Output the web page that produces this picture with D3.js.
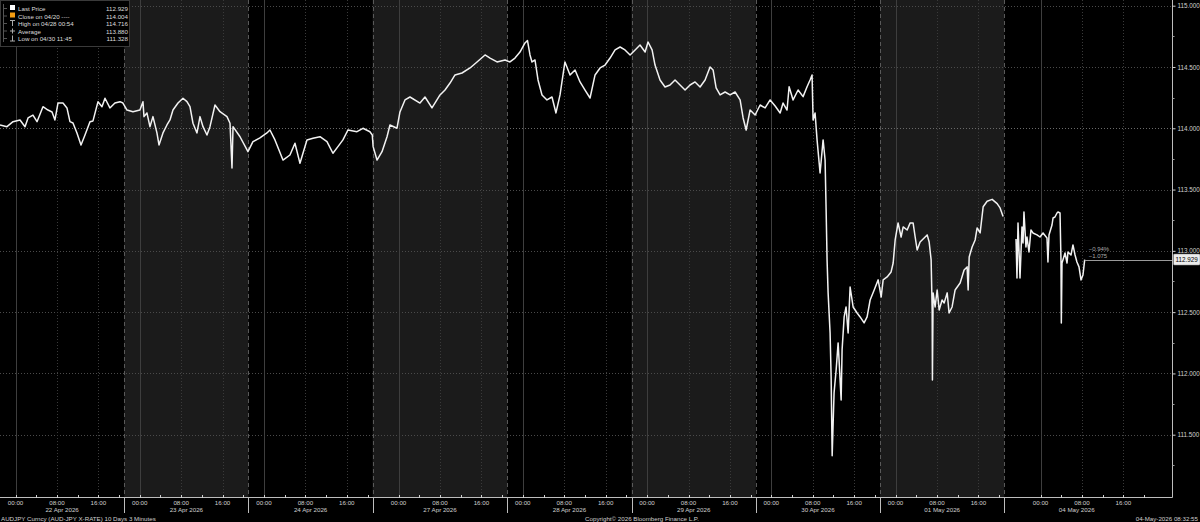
<!DOCTYPE html>
<html><head><meta charset="utf-8">
<script src="https://cdn.jsdelivr.net/npm/d3@7"></script>
<style>
html,body{margin:0;padding:0;background:#000;}
svg{display:block;}
text{font-family:"Liberation Sans",Arial,sans-serif;}
</style></head>
<body>
<svg id="c" width="1200" height="522"></svg>
<script>
// ---------- DATA ----------
const ticker = "AUDJPY Curncy (AUD-JPY X-RATE) 10 Days 3 Minutes";
const copyright = "Copyright\u00A9 2026 Bloomberg Finance L.P.";
const stamp = "04-May-2026 08:32:55";
const legendLabels = ["Last Price", "Close on 04/20 ----", "High on 04/28 00:54", "Average", "Low on 04/30 11:45"];
const legendValues = ["112.929", "114.004", "114.716", "113.880", "111.328"];
const lastPrice = 112.929;
const prevClose = 114.004;
const yTicks = [111.5, 112.0, 112.5, 113.0, 113.5, 114.0, 114.5, 115.0];
const dayLabels = ["22 Apr 2026","23 Apr 2026","24 Apr 2026","27 Apr 2026","28 Apr 2026","29 Apr 2026","30 Apr 2026","01 May 2026","04 May 2026"];
const dayStarts = ["04-21 21:00","04-22 21:00","04-23 21:00","04-26 19:00","04-27 21:00","04-28 21:00","04-29 21:00","04-30 21:00","05-03 17:00"];
const dayEnds   = ["04-22 21:00","04-23 21:00","04-24 21:00","04-27 21:00","04-28 21:00","04-29 21:00","04-30 21:00","05-01 21:00","05-04 21:00"];
const dayDates  = ["04-22","04-23","04-24","04-27","04-28","04-29","04-30","05-01","05-04"];
const timeTickLabels = ["00:00","08:00","16:00"];
// trading-time breakpoints (weekends collapsed)
const timeBreaks = ["04-21 21:00","04-24 21:00","04-26 19:00","05-01 21:00","05-03 17:00","05-05 01:24"];

const times = ["04-21 21:00","04-21 22:21","04-21 23:31","04-22 00:52","04-22 01:50","04-22 02:25","04-22 03:22","04-22 04:09","04-22 05:18","04-22 06:16","04-22 07:03","04-22 07:37","04-22 08:12","04-22 09:10","04-22 09:56","04-22 10:31","04-22 11:06","04-22 11:52","04-22 12:39","04-22 13:25","04-22 14:23","04-22 14:58","04-22 15:56","04-22 16:42","04-22 17:17","04-22 18:14","04-22 19:12","04-22 20:11","04-22 20:45","04-22 21:32","04-22 22:41","04-23 00:02","04-23 00:37","04-23 00:49","04-23 01:23","04-23 01:58","04-23 02:33","04-23 03:19","04-23 03:43","04-23 04:29","04-23 05:15","04-23 05:50","04-23 06:25","04-23 07:23","04-23 08:21","04-23 09:07","04-23 09:42","04-23 10:17","04-23 11:03","04-23 11:38","04-23 12:13","04-23 12:59","04-23 13:34","04-23 14:32","04-23 15:30","04-23 16:51","04-23 17:26","04-23 17:49","04-23 18:01","04-23 19:22","04-23 20:54","04-23 21:52","04-23 23:13","04-24 00:34","04-24 01:09","04-24 02:07","04-24 03:40","04-24 05:01","04-24 05:59","04-24 06:57","04-24 08:18","04-24 09:28","04-24 10:49","04-24 12:10","04-24 13:19","04-24 14:17","04-24 15:15","04-24 16:13","04-24 17:58","04-24 19:07","04-24 20:28","04-24 20:55",
"04-26 19:05","04-26 19:50","04-26 20:48","04-26 21:46","04-26 22:20","04-26 23:41","04-27 00:16","04-27 01:14","04-27 02:12","04-27 04:08","04-27 05:06","04-27 06:27","04-27 08:00","04-27 08:58","04-27 09:56","04-27 10:54","04-27 12:15","04-27 13:48","04-27 15:09","04-27 16:42","04-27 17:40","04-27 19:01","04-27 20:34","04-27 21:31","04-27 22:29","04-27 23:27","04-28 00:25","04-28 00:54","04-28 01:23","04-28 01:46","04-28 02:21","04-28 02:56","04-28 03:42","04-28 04:40","04-28 05:38","04-28 06:24","04-28 07:11","04-28 08:08","04-28 09:07","04-28 10:05","04-28 11:03","04-28 12:01","04-28 12:59","04-28 13:57","04-28 14:55","04-28 15:53","04-28 16:51","04-28 17:49","04-28 18:47","04-28 19:44","04-28 20:43","04-28 21:41","04-28 22:38","04-28 23:37","04-29 00:11","04-29 00:58","04-29 01:32","04-29 02:30","04-29 03:28","04-29 04:26","04-29 05:24","04-29 06:22","04-29 07:20","04-29 08:18","04-29 09:16","04-29 10:14","04-29 11:12","04-29 12:10","04-29 12:45","04-29 13:20","04-29 14:06","04-29 15:04","04-29 16:02","04-29 17:00","04-29 17:58","04-29 18:33","04-29 19:08","04-29 19:54","04-29 20:52","04-29 21:50","04-29 22:48","04-29 23:46","04-30 00:44","04-30 01:42","04-30 02:16","04-30 03:02","04-30 03:26","04-30 04:12","04-30 05:10","04-30 06:08","04-30 06:54","04-30 07:29","04-30 07:52","04-30 08:04","04-30 08:27","04-30 08:50","04-30 09:25","04-30 10:00","04-30 10:23","04-30 10:35","04-30 10:46","04-30 10:58","04-30 11:21","04-30 11:33","04-30 11:45","04-30 12:07","04-30 12:31","04-30 12:54","04-30 13:05","04-30 13:29","04-30 13:40","04-30 14:04","04-30 14:26","04-30 14:50","04-30 15:13","04-30 15:48","04-30 16:34","04-30 17:09","04-30 17:55","04-30 18:30","04-30 19:05","04-30 19:52","04-30 20:38","04-30 21:13","04-30 21:36","04-30 22:22","04-30 23:08","04-30 23:32","04-30 23:55","05-01 00:29","05-01 01:04","05-01 01:28","05-01 02:14","05-01 02:49","05-01 03:23","05-01 03:47","05-01 04:10","05-01 04:44","05-01 05:31","05-01 06:06","05-01 06:29","05-01 06:52","05-01 07:04","05-01 07:07","05-01 07:15","05-01 07:38","05-01 08:02","05-01 08:25","05-01 08:59","05-01 09:23","05-01 09:58","05-01 10:20","05-01 10:55","05-01 11:30","05-01 12:28","05-01 13:14","05-01 13:49","05-01 14:01","05-01 14:13","05-01 14:47","05-01 15:22","05-01 15:45","05-01 16:20","05-01 16:55","05-01 17:41","05-01 18:39","05-01 19:37","05-01 20:11","05-01 20:46",
"05-03 19:16","05-03 19:27","05-03 19:39","05-03 20:02","05-03 20:25","05-03 20:37","05-03 20:48","05-03 21:11","05-03 21:23","05-03 21:46","05-03 22:09","05-03 22:32","05-03 23:19","05-03 23:54","05-04 00:29","05-04 01:15","05-04 01:26","05-04 01:38","05-04 02:13","05-04 02:25","05-04 02:47","05-04 03:11","05-04 03:22","05-04 03:46","05-04 03:57","05-04 04:01","05-04 04:09","05-04 04:44","05-04 05:07","05-04 05:18","05-04 05:53","05-04 06:16","05-04 06:40","05-04 07:02","05-04 07:26","05-04 07:49","05-04 08:12","05-04 08:32"];

const prices = [114.027,114.013,114.054,114.068,114.013,114.084,114.108,114.054,114.176,114.149,114.133,114.068,114.206,114.206,114.166,114.054,114.043,113.962,113.864,113.945,114.054,114.060,114.217,114.176,114.245,114.166,114.206,114.217,114.206,114.149,114.135,114.149,114.217,114.095,114.125,114.013,114.095,113.962,113.864,113.962,114.027,114.068,114.149,114.206,114.245,114.217,114.176,114.041,113.962,114.095,114.013,113.945,114.013,114.190,114.135,114.095,114.041,113.676,114.013,113.931,113.809,113.891,113.921,113.962,113.986,113.905,113.741,113.782,113.878,113.714,113.905,113.918,113.931,113.891,113.796,113.850,113.905,113.986,113.972,114.000,113.972,113.945,
113.850,113.741,113.809,113.931,114.027,114.000,114.133,114.231,114.255,114.206,114.255,114.166,114.272,114.312,114.369,114.435,114.451,114.492,114.541,114.598,114.573,114.541,114.557,114.541,114.573,114.622,114.696,114.716,114.598,114.541,114.557,114.394,114.272,114.231,114.255,114.125,114.272,114.541,114.435,114.476,114.378,114.312,114.247,114.435,114.492,114.516,114.573,114.639,114.663,114.639,114.598,114.639,114.679,114.622,114.704,114.639,114.516,114.394,114.337,114.353,114.394,114.353,114.312,114.353,114.378,114.337,114.394,114.500,114.476,114.329,114.272,114.296,114.272,114.296,114.231,114.084,113.986,114.149,114.108,114.190,114.166,114.231,114.182,114.125,114.206,114.149,114.339,114.231,114.312,114.258,114.339,114.394,114.435,114.068,114.125,113.905,113.635,113.905,113.741,113.334,112.926,112.657,112.330,111.971,111.328,111.841,112.028,112.249,112.110,111.784,112.192,112.461,112.542,112.330,112.705,112.542,112.493,112.461,112.412,112.461,112.599,112.681,112.763,112.624,112.763,112.787,112.828,112.901,113.089,113.228,113.113,113.195,113.170,113.228,113.228,113.113,113.007,113.072,113.105,113.130,113.072,112.926,112.518,111.947,112.657,112.542,112.681,112.518,112.599,112.575,112.657,112.493,112.542,112.681,112.738,112.844,112.869,112.681,112.950,113.032,113.089,113.187,113.146,113.360,113.405,113.420,113.385,113.350,113.280,
113.096,112.779,113.228,112.779,113.195,113.064,113.317,113.032,113.113,112.991,113.170,113.146,113.130,113.113,113.146,113.105,112.909,113.130,113.211,113.268,113.276,113.309,113.317,113.309,112.926,112.412,112.901,112.983,112.901,112.991,112.966,113.048,112.966,112.909,112.869,112.763,112.803,112.929];

// ---------- SETUP ----------
const parse = d3.utcParse("%Y-%m-%d %H:%M");
const T = s => parse("2026-" + s);
const W = 1200, H = 522;
const svg = d3.select("#c");
const plotRight = 1172, axisY = 497;

const x = d3.scaleUtc()
  .domain(timeBreaks.map(T))
  .range([0, 372.7, 372.7, 1004.3, 1004.3, plotRight]);
const y = d3.scaleLinear().domain([111, 115]).range([496, 5.7]);

const data = times.map((t, i) => ({t: T(t), v: prices[i]}));

svg.append("rect").attr("width", W).attr("height", H).attr("fill", "#000");

// day shading
const g = svg.append("g");
dayLabels.forEach((d, i) => {
  if (i % 2 === 1) {
    g.append("rect")
      .attr("x", x(T(dayStarts[i]))).attr("y", 0)
      .attr("width", x(T(dayEnds[i])) - x(T(dayStarts[i])))
      .attr("height", axisY)
      .attr("fill", "#1b1b1b");
  }
});

// horizontal gridlines
yTicks.forEach(v => {
  g.append("line").attr("x1", 0).attr("x2", plotRight)
    .attr("y1", Math.round(y(v)) + 0.5).attr("y2", Math.round(y(v)) + 0.5)
    .attr("stroke", "#4a4a4a").attr("stroke-width", 1).attr("stroke-dasharray", "1,2");
});

// vertical gridlines
dayDates.forEach((dd, i) => {
  timeTickLabels.forEach((tl, j) => {
    const xv = Math.round(x(T(dd + " " + tl))) + 0.5;
    g.append("line").attr("x1", xv).attr("x2", xv).attr("y1", 0).attr("y2", axisY)
      .attr("stroke", j === 0 ? "#3e3e3e" : "#3a3a3a")
      .attr("stroke-dasharray", j === 0 ? null : "1,2");
  });
  const xb = Math.round(x(T(dayStarts[i]))) + 0.5;
  if (i > 0) {
    g.append("line").attr("x1", xb).attr("x2", xb).attr("y1", 0).attr("y2", axisY)
      .attr("stroke", "#595959").attr("stroke-dasharray", "4,3");
  }
});

// prev close line (dotted)
g.append("line").attr("x1", 0).attr("x2", plotRight)
  .attr("y1", Math.round(y(prevClose)) + 0.5).attr("y2", Math.round(y(prevClose)) + 0.5)
  .attr("stroke", "#6a6a6a").attr("stroke-dasharray", "1,2");

// price line, split into sessions where there is a visible gap
const line = d3.line().x(d => x(d.t)).y(d => y(d.v));
const segs = [];
let cur = [];
data.forEach((d, i) => {
  if (i > 0 && (d.t - data[i - 1].t) > 6 * 3600e3 && x(d.t) - x(data[i - 1].t) > 3) { segs.push(cur); cur = []; }
  cur.push(d);
});
segs.push(cur);
segs.forEach(s => {
  g.append("path").attr("d", line(s)).attr("fill", "none")
    .attr("stroke", "#f2f2f2").attr("stroke-width", 1.5).attr("stroke-linejoin", "round");
});

// last price marker line & change text
const lastT = data[data.length - 1].t;
g.append("line").attr("x1", x(lastT)).attr("x2", plotRight)
  .attr("y1", Math.round(y(lastPrice)) + 0.5).attr("y2", Math.round(y(lastPrice)) + 0.5)
  .attr("stroke", "#9a9a9a");
const chg = lastPrice - prevClose;
g.append("text").attr("x", x(lastT) + 4).attr("y", y(lastPrice) - 9)
  .attr("font-size", 6).attr("fill", "#a8a8a8").text(d3.format(".2f")(chg / prevClose * 100) + "%");
g.append("text").attr("x", x(lastT) + 4).attr("y", y(lastPrice) - 1.5)
  .attr("font-size", 6).attr("fill", "#a8a8a8").text(d3.format(".3f")(chg));

// ---------- AXES ----------
svg.append("line").attr("x1", 0).attr("x2", plotRight + 0.5).attr("y1", axisY + 0.5).attr("y2", axisY + 0.5)
  .attr("stroke", "#bdbdbd");
svg.append("line").attr("x1", plotRight + 0.5).attr("x2", plotRight + 0.5).attr("y1", 0).attr("y2", axisY + 0.5)
  .attr("stroke", "#bdbdbd");

const yAxis = d3.axisRight(y).tickValues(yTicks).tickFormat(d3.format(".3f")).tickSize(3).tickPadding(2);
const ya = svg.append("g").attr("transform", `translate(${plotRight + 0.5},0)`).call(yAxis);
ya.select(".domain").remove();
ya.selectAll("line").attr("stroke", "#cfcfcf");
ya.selectAll("text").attr("fill", "#d0d0d0").attr("font-size", 6.3).attr("font-family", "Liberation Sans, Arial, sans-serif");
const minor = d3.range(111.25, 115, 0.5);
svg.append("g").selectAll("line").data(minor).join("line")
  .attr("x1", plotRight + 0.5).attr("x2", plotRight + 2.5)
  .attr("y1", d => Math.round(y(d)) + 0.5).attr("y2", d => Math.round(y(d)) + 0.5)
  .attr("stroke", "#9a9a9a");

// last price box
const lb = svg.append("g");
lb.append("rect").attr("x", plotRight + 1.5).attr("y", y(lastPrice) - 5.5).attr("width", 26.5).attr("height", 11)
  .attr("fill", "#ececec").attr("stroke", "#888").attr("stroke-width", 0.5).attr("rx", 1);
lb.append("text").attr("x", plotRight + 3.5).attr("y", y(lastPrice) + 2.3)
  .attr("font-size", 6.3).attr("fill", "#000").text(d3.format(".3f")(lastPrice));

// x ticks: minor every 4h, labels every 8h
const xt = svg.append("g");
dayDates.forEach((dd, i) => {
  [0, 4, 8, 12, 16, 20].forEach(h => {
    const tt = T(dd + " " + String(h).padStart(2, "0") + ":00");
    if (tt > T(dayEnds[i])) return;
    const xv = Math.round(x(tt)) + 0.5;
    xt.append("line").attr("x1", xv).attr("x2", xv).attr("y1", axisY - 2).attr("y2", axisY + 1)
      .attr("stroke", "#d0d0d0");
  });
  timeTickLabels.forEach(tl => {
    xt.append("text").attr("x", x(T(dd + " " + tl))).attr("y", 504.5)
      .attr("text-anchor", "middle").attr("font-size", 6.2).attr("fill", "#cfcfcf").text(tl);
  });
  const xs0 = x(T(dayStarts[i])), xs1 = x(T(dayEnds[i]));
  xt.append("text").attr("x", (xs0 + xs1) / 2).attr("y", 512)
    .attr("text-anchor", "middle").attr("font-size", 6.2).attr("fill", "#cfcfcf").text(dayLabels[i]);
  if (i > 0) {
    const xb = Math.round(xs0) + 0.5;
    xt.append("line").attr("x1", xb).attr("x2", xb).attr("y1", axisY).attr("y2", 513)
      .attr("stroke", "#bdbdbd");
  }
});

// footer
svg.append("text").attr("x", 1).attr("y", 520.5).attr("font-size", 6.2).attr("fill", "#cfcfcf").text(ticker);
svg.append("text").attr("x", 642).attr("y", 520.5).attr("text-anchor", "middle").attr("font-size", 6.2).attr("fill", "#cfcfcf").text(copyright);
svg.append("text").attr("x", 1198).attr("y", 520.5).attr("text-anchor", "end").attr("font-size", 6.2).attr("fill", "#cfcfcf").text(stamp);

// ---------- LEGEND ----------
const lg = svg.append("g");
lg.append("rect").attr("x", 0.5).attr("y", 0.5).attr("width", 129).attr("height", 46)
  .attr("fill", "#000").attr("stroke", "#3a3a3a");
lg.append("line").attr("x1", 3.5).attr("x2", 3.5).attr("y1", 4).attr("y2", 42).attr("stroke", "#555");
legendLabels.forEach((lab, i) => {
  const yy = 11 + i * 7.5;
  lg.append("line").attr("x1", 3.5).attr("x2", 7).attr("y1", yy - 2.5).attr("y2", yy - 2.5).attr("stroke", "#555");
  if (i === 0) lg.append("rect").attr("x", 10).attr("y", yy - 6).attr("width", 5).attr("height", 5).attr("fill", "#fff");
  if (i === 1) lg.append("rect").attr("x", 10).attr("y", yy - 6).attr("width", 5).attr("height", 5).attr("fill", "#f39c12");
  if (i === 2) {
    lg.append("line").attr("x1", 10).attr("x2", 15).attr("y1", yy - 5.5).attr("y2", yy - 5.5).attr("stroke", "#aaa");
    lg.append("line").attr("x1", 12.5).attr("x2", 12.5).attr("y1", yy - 5.5).attr("y2", yy).attr("stroke", "#aaa");
  }
  if (i === 3) {
    lg.append("line").attr("x1", 10).attr("x2", 15).attr("y1", yy - 2.5).attr("y2", yy - 2.5).attr("stroke", "#aaa");
    lg.append("line").attr("x1", 12.5).attr("x2", 12.5).attr("y1", yy - 5).attr("y2", yy).attr("stroke", "#aaa");
  }
  if (i === 4) {
    lg.append("line").attr("x1", 10).attr("x2", 15).attr("y1", yy).attr("y2", yy).attr("stroke", "#aaa");
    lg.append("line").attr("x1", 12.5).attr("x2", 12.5).attr("y1", yy - 5.5).attr("y2", yy).attr("stroke", "#aaa");
  }
  lg.append("text").attr("x", 18).attr("y", yy).attr("font-size", 6.2).attr("fill", "#dcdcdc").text(lab);
  lg.append("text").attr("x", 128).attr("y", yy).attr("text-anchor", "end").attr("font-size", 6.2).attr("fill", "#dcdcdc").text(legendValues[i]);
});
</script>
</body></html>
